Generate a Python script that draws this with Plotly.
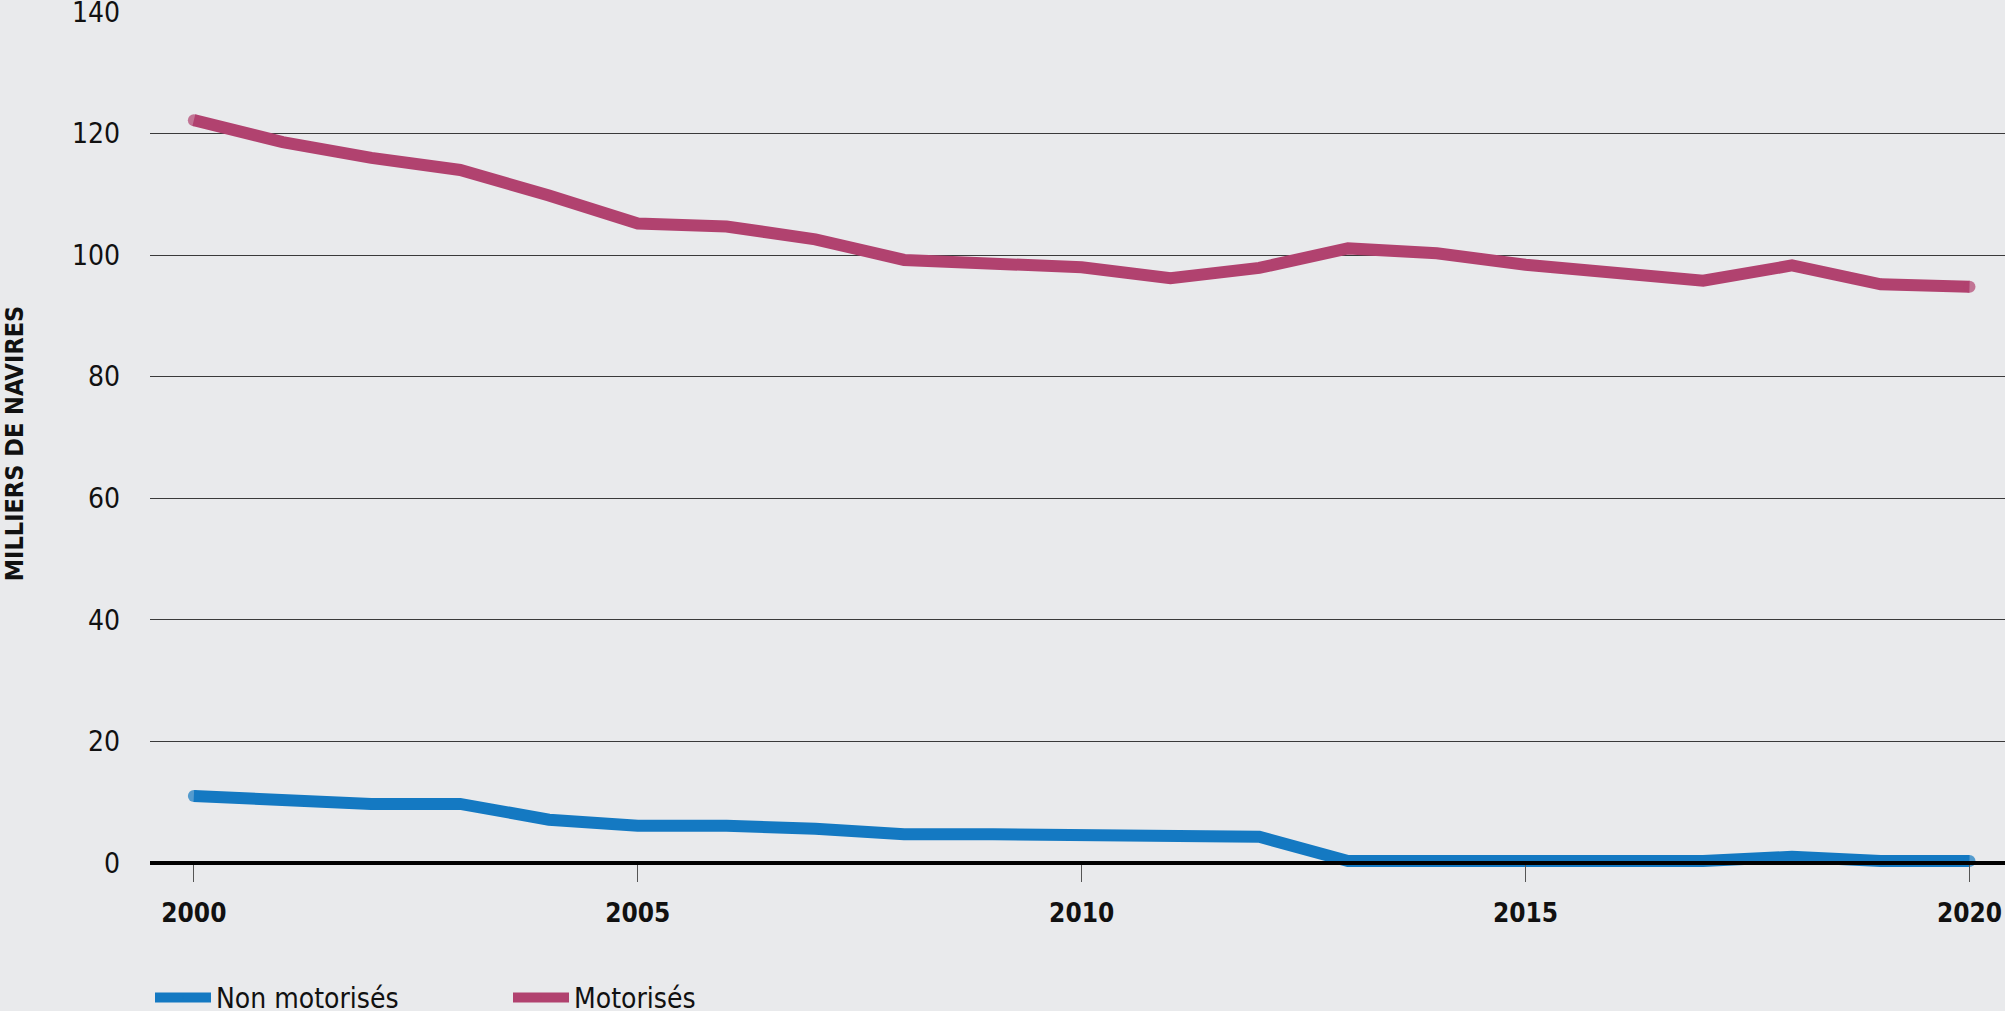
import plotly.graph_objects as go

years = list(range(2000, 2021))
motorises = [122.2, 118.6, 116.0, 114.0, 109.8, 105.2, 104.7, 102.6, 99.2, 98.4, 98.0,
             96.2, 97.9, 101.1, 100.3, 98.4, 97.2, 95.8, 98.3, 95.2, 94.8]
non_motorises = [11.0, 10.4, 9.7, 9.7, 7.1, 6.1, 6.1, 5.6, 4.7, 4.7, 4.7,
                 4.7, 4.3, 0.3, 0.3, 0.3, 0.3, 0.3, 1.0, 0.3, 0.3]
y_ticks = [0, 20, 40, 60, 80, 100, 120, 140]
x_ticks = [2000, 2005, 2010, 2015, 2020]

FONT = "Liberation Sans Narrow, DejaVu Sans Condensed, Roboto, Arial"
BG = "#e9eaec"
BLUE = "#1479c2"
MAGENTA = "#b1426f"
LW = 12

y_min, y_max = -2, 140


def end_caps(values):
    # round caps: show a marker only at the first and last point
    return [LW if i in (0, len(values) - 1) else 0 for i in range(len(values))]


fig = go.Figure()
fig.add_trace(go.Scatter(x=years, y=non_motorises, mode="lines+markers", name="Non motorisés",
                         line=dict(color=BLUE, width=LW),
                         marker=dict(color=BLUE, size=end_caps(non_motorises), line=dict(width=0))))
fig.add_trace(go.Scatter(x=years, y=motorises, mode="lines+markers", name="Motorisés",
                         line=dict(color=MAGENTA, width=LW),
                         marker=dict(color=MAGENTA, size=end_caps(motorises), line=dict(width=0))))

fig.update_layout(
    width=2005, height=1011,
    template="none",
    paper_bgcolor=BG, plot_bgcolor=BG,
    margin=dict(l=150, r=0, t=12, b=136),
    font=dict(family=FONT, size=28, color="#111"),
    showlegend=True,
    legend=dict(orientation="h", x=0.0, xanchor="left",
                yref="container", y=0.013, yanchor="middle",
                font=dict(family=FONT, size=28, color="#111"),
                entrywidth=287, itemwidth=56, bgcolor="rgba(0,0,0,0)",
                borderwidth=0),
    xaxis=dict(range=[1999.506, 2020.4], tickvals=x_ticks,
               ticktext=[str(v) for v in x_ticks],
               tickfont=dict(family=FONT, size=26, color="#111", weight="bold"),
               showgrid=False, zeroline=False, automargin=False,
               showline=True, linecolor="#000", linewidth=4,
               anchor="free", position=(0 - y_min) / (y_max - y_min),
               ticks="outside", ticklen=17, tickwidth=1, tickcolor="#555",
               ticklabelstandoff=9, ticklabeloverflow="allow"),
    yaxis=dict(range=[y_min, y_max], tickvals=y_ticks,
               ticktext=[str(v) for v in y_ticks],
               tickfont=dict(family=FONT, size=28, color="#111"),
               showgrid=True, gridcolor="#3a3a3a", gridwidth=1,
               zeroline=False, showline=False, ticks="", automargin=False,
               ticklabelstandoff=29, ticklabeloverflow="allow",
               title=dict(text="MILLIERS DE NAVIRES", standoff=58,
                          font=dict(family=FONT, size=25, color="#111", weight="bold"))),
)

fig.write_html("out.html", config={"displayModeBar": False},
               post_script="document.body.style.margin='0';document.body.style.overflow='hidden';")
